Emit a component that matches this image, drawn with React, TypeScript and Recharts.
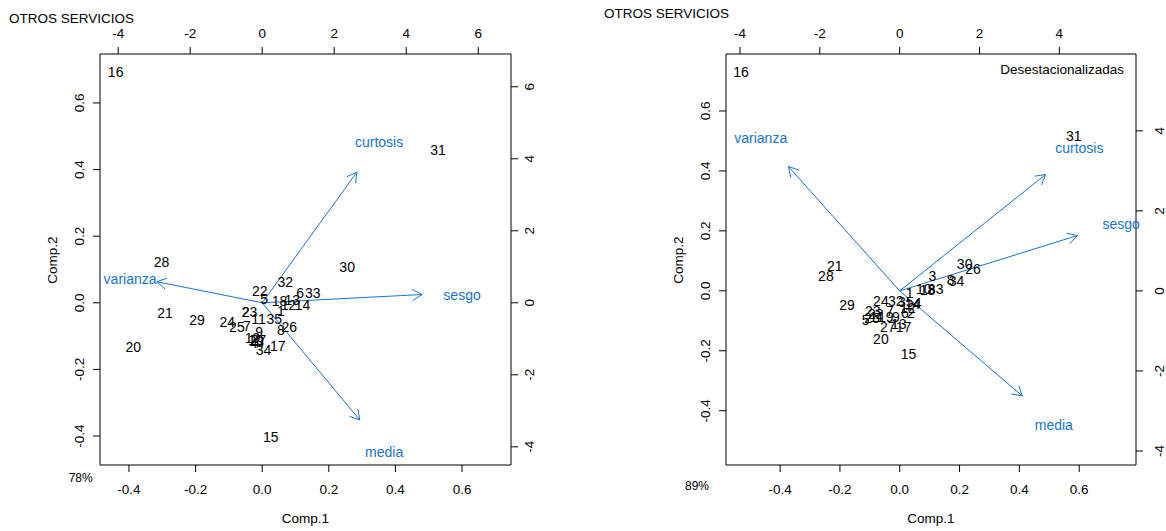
import React from 'react';
import { ScatterChart, Scatter, XAxis, YAxis, ReferenceLine } from 'recharts';

const FONT = '"Liberation Sans", Arial, Helvetica, sans-serif';
const BLUE = '#1874CD';

// ---------- Left panel (original series) ----------
const leftLabels = ['16', '31', '28', '30', '21', '29', '20', '24', '15', '22', '32', '5', '18', '13', '6', '33', '12', '14', '1', '23', '2', '25', '7', '11', '35', '8', '26', '9', '19', '10', '4', '3', '27', '34', '17'];
const leftComp1 = [-0.440, 0.528, -0.302, 0.255, -0.292, -0.196, -0.387, -0.105, 0.026, -0.007, 0.069, 0.006, 0.052, 0.090, 0.114, 0.152, 0.079, 0.121, 0.056, -0.038, -0.050, -0.076, -0.046, -0.011, 0.036, 0.056, 0.081, -0.009, -0.029, -0.019, -0.026, -0.006, -0.011, 0.004, 0.047];
const leftComp2 = [0.692, 0.459, 0.123, 0.108, -0.032, -0.052, -0.132, -0.057, -0.404, 0.036, 0.063, 0.011, 0.006, 0.008, 0.030, 0.029, -0.007, -0.007, -0.024, -0.027, -0.029, -0.074, -0.070, -0.050, -0.050, -0.082, -0.074, -0.087, -0.107, -0.112, -0.122, -0.117, -0.112, -0.142, -0.130];

const varNames = ['curtosis', 'sesgo', 'varianza', 'media'];
const leftArrowX = [2.628, 4.44, -2.928, 2.711];
const leftArrowY = [3.625, 0.23, 0.586, -3.256];
const leftVarLabelX = [3.247, 5.55, -3.67, 3.386];
const leftVarLabelY = [4.458, 0.22, 0.66, -4.153];

// ---------- Right panel (desestacionalizadas) ----------
const rightLabels = ['16', '31', '21', '28', '30', '26', '3', '8', '34', '1', '10', '18', '33', '29', '24', '32', '35', '14', '4', '23', '7', '6', '2', '12', '22', '5', '25', '11', '19', '9', '27', '13', '17', '20', '15'];
const rightComp1 = [-0.531, 0.582, -0.217, -0.247, 0.217, 0.245, 0.109, 0.170, 0.190, 0.033, 0.080, 0.093, 0.120, -0.176, -0.063, -0.013, 0.020, 0.043, 0.060, -0.090, -0.033, 0.017, 0.037, 0.027, -0.080, -0.114, -0.093, -0.077, -0.047, -0.013, -0.040, -0.003, 0.013, -0.063, 0.029];
const rightComp2 = [0.730, 0.515, 0.084, 0.050, 0.090, 0.072, 0.048, 0.037, 0.033, -0.007, 0.007, 0.003, 0.007, -0.047, -0.033, -0.033, -0.037, -0.043, -0.040, -0.067, -0.067, -0.073, -0.073, -0.057, -0.077, -0.097, -0.090, -0.087, -0.087, -0.087, -0.120, -0.110, -0.120, -0.160, -0.210];

const rightArrowX = [3.655, 4.448, -2.786, 3.071];
const rightArrowY = [2.908, 1.383, 3.108, -2.625];
const rightVarLabelX = [4.5, 5.55, -3.48, 3.862];
const rightVarLabelY = [3.575, 1.66, 3.825, -3.35];

// ---------- Tick labels ----------
const primaryTicks = [-0.4, -0.2, 0, 0.2, 0.4, 0.6];
const leftSecTicks = [-4, -2, 0, 2, 4, 6];
const rightSecTicks = [-4, -2, 0, 2, 4];

const TICK_FS = 13.5;
const LABEL_FS = 14;

const ArrowShape = (p: any) => {
  const { x1, y1, x2, y2 } = p;
  const ang = Math.atan2(y2 - y1, x2 - x1);
  const L = 11;
  const a = Math.PI / 6;
  const hx1 = x2 - L * Math.cos(ang - a);
  const hy1 = y2 - L * Math.sin(ang - a);
  const hx2 = x2 - L * Math.cos(ang + a);
  const hy2 = y2 - L * Math.sin(ang + a);
  return (
    <g>
      <line x1={x1} y1={y1} x2={x2} y2={y2} stroke={BLUE} strokeWidth={1} />
      <polyline points={`${hx1},${hy1} ${x2},${y2} ${hx2},${hy2}`} fill="none" stroke={BLUE} strokeWidth={1} />
    </g>
  );
};

type PanelProps = {
  left: number;
  width: number;
  plotL: number;
  plotR: number;
  plotT: number;
  plotB: number;
  pDom: [number, number];
  sDom: [number, number];
  secTicks: number[];
  rightLabOff: number;
  labels: string[];
  c1: number[];
  c2: number[];
  ax: number[];
  ay: number[];
  lx: number[];
  ly: number[];
};

const H = 531;

function Panel(props: PanelProps) {
  const { left, width, plotL, plotR, plotT, plotB, pDom, sDom, secTicks, rightLabOff, labels, c1, c2, ax, ay, lx, ly } = props;
  const points = labels.map((label, i) => ({ label, x: c1[i], y: c2[i] }));
  const varLabels = varNames.map((label, i) => ({ label, x: lx[i], y: ly[i] }));
  const axisStyle = { stroke: '#000', strokeWidth: 1 };

  const bottomTick = (p: any) => (
    <text x={p.x} y={plotB + 24} textAnchor="middle" dominantBaseline="central" fontSize={TICK_FS} fontFamily={FONT} fill="#000">
      {Number(p.payload.value).toFixed(1)}
    </text>
  );
  const topTick = (p: any) => (
    <text x={p.x} y={plotT - 21} textAnchor="middle" dominantBaseline="central" fontSize={TICK_FS} fontFamily={FONT} fill="#000">
      {String(p.payload.value)}
    </text>
  );
  const leftTick = (p: any) => {
    const X = plotL - 20;
    return (
      <text x={X} y={p.y} transform={`rotate(-90, ${X}, ${p.y})`} textAnchor="middle" dominantBaseline="central" fontSize={TICK_FS} fontFamily={FONT} fill="#000">
        {Number(p.payload.value).toFixed(1)}
      </text>
    );
  };
  const rightTick = (p: any) => {
    const X = plotR + rightLabOff;
    return (
      <text x={X} y={p.y} transform={`rotate(-90, ${X}, ${p.y})`} textAnchor="middle" dominantBaseline="central" fontSize={TICK_FS} fontFamily={FONT} fill="#000">
        {String(p.payload.value)}
      </text>
    );
  };

  return (
    <div style={{ position: 'absolute', left, top: 0 }}>
      <ScatterChart width={width} height={H} margin={{ top: 0, right: 0, bottom: 0, left: 0 }}>
        <XAxis xAxisId="p" type="number" dataKey="x" orientation="bottom" domain={pDom} ticks={primaryTicks} interval={0} height={H - plotB} tickSize={7} axisLine={axisStyle} tickLine={axisStyle} tick={bottomTick} />
        <XAxis xAxisId="s" type="number" dataKey="x" orientation="top" domain={sDom} ticks={secTicks} interval={0} height={plotT} tickSize={7} axisLine={axisStyle} tickLine={axisStyle} tick={topTick} />
        <YAxis yAxisId="p" type="number" dataKey="y" orientation="left" domain={pDom} ticks={primaryTicks} interval={0} width={plotL} tickSize={7} axisLine={axisStyle} tickLine={axisStyle} tick={leftTick} />
        <YAxis yAxisId="s" type="number" dataKey="y" orientation="right" domain={sDom} ticks={secTicks} interval={0} width={width - plotR} tickSize={7} axisLine={axisStyle} tickLine={axisStyle} tick={rightTick} />
        {ax.map((x, i) => (
          <ReferenceLine
            key={varNames[i]}
            xAxisId="s"
            yAxisId="s"
            segment={[{ x: 0, y: 0 }, { x, y: ay[i] }]}
            stroke={BLUE}
            ifOverflow="visible"
            shape={ArrowShape}
          />
        ))}
        <Scatter
          xAxisId="p"
          yAxisId="p"
          data={points}
          isAnimationActive={false}
          shape={(p: any) => (
            <text x={p.cx} y={p.cy} textAnchor="middle" dominantBaseline="central" fontSize={LABEL_FS} fontFamily={FONT} fill="#000">
              {p.payload.label}
            </text>
          )}
        />
        <Scatter
          xAxisId="s"
          yAxisId="s"
          data={varLabels}
          isAnimationActive={false}
          shape={(p: any) => (
            <text x={p.cx} y={p.cy} textAnchor="middle" dominantBaseline="central" fontSize={LABEL_FS} fontFamily={FONT} fill={BLUE}>
              {p.payload.label}
            </text>
          )}
        />
      </ScatterChart>
    </div>
  );
}

export default function App() {
  const txt = { fontFamily: FONT, fill: '#000' } as const;
  return (
    <div style={{ position: 'absolute', left: 0, top: 0, width: 1166, height: 531, background: '#fff', overflow: 'hidden' }}>
      <Panel
        left={0}
        width={583}
        plotL={100}
        plotR={511}
        plotT={54}
        plotB={465}
        pDom={[-0.487, 0.747]}
        sDom={[-4.505, 6.91]}
        secTicks={leftSecTicks}
        rightLabOff={18.5}
        labels={leftLabels}
        c1={leftComp1}
        c2={leftComp2}
        ax={leftArrowX}
        ay={leftArrowY}
        lx={leftVarLabelX}
        ly={leftVarLabelY}
      />
      <Panel
        left={583}
        width={583}
        plotL={143}
        plotR={553}
        plotT={54}
        plotB={465}
        pDom={[-0.581, 0.79]}
        sDom={[-4.35, 5.92]}
        secTicks={rightSecTicks}
        rightLabOff={23.5}
        labels={rightLabels}
        c1={rightComp1}
        c2={rightComp2}
        ax={rightArrowX}
        ay={rightArrowY}
        lx={rightVarLabelX}
        ly={rightVarLabelY}
      />
      <svg width={1166} height={531} style={{ position: 'absolute', left: 0, top: 0, pointerEvents: 'none' }}>
        <text x={9} y={18.5} dominantBaseline="central" fontSize={13.5} {...txt}>OTROS SERVICIOS</text>
        <text x={604} y={13.5} dominantBaseline="central" fontSize={13.5} {...txt}>OTROS SERVICIOS</text>
        <text x={1124} y={69} textAnchor="end" dominantBaseline="central" fontSize={13.5} {...txt}>Desestacionalizadas</text>
        <text x={80.7} y={478} textAnchor="middle" dominantBaseline="central" fontSize={12} {...txt}>78%</text>
        <text x={697} y={486} textAnchor="middle" dominantBaseline="central" fontSize={12} {...txt}>89%</text>
        <text x={305.5} y={518.5} textAnchor="middle" dominantBaseline="central" fontSize={13.5} {...txt}>Comp.1</text>
        <text x={931} y={518.5} textAnchor="middle" dominantBaseline="central" fontSize={13.5} {...txt}>Comp.1</text>
        <text x={52} y={260} transform="rotate(-90, 52, 260)" textAnchor="middle" dominantBaseline="central" fontSize={13.5} {...txt}>Comp.2</text>
        <text x={678} y={260} transform="rotate(-90, 678, 260)" textAnchor="middle" dominantBaseline="central" fontSize={13.5} {...txt}>Comp.2</text>
      </svg>
    </div>
  );
}
